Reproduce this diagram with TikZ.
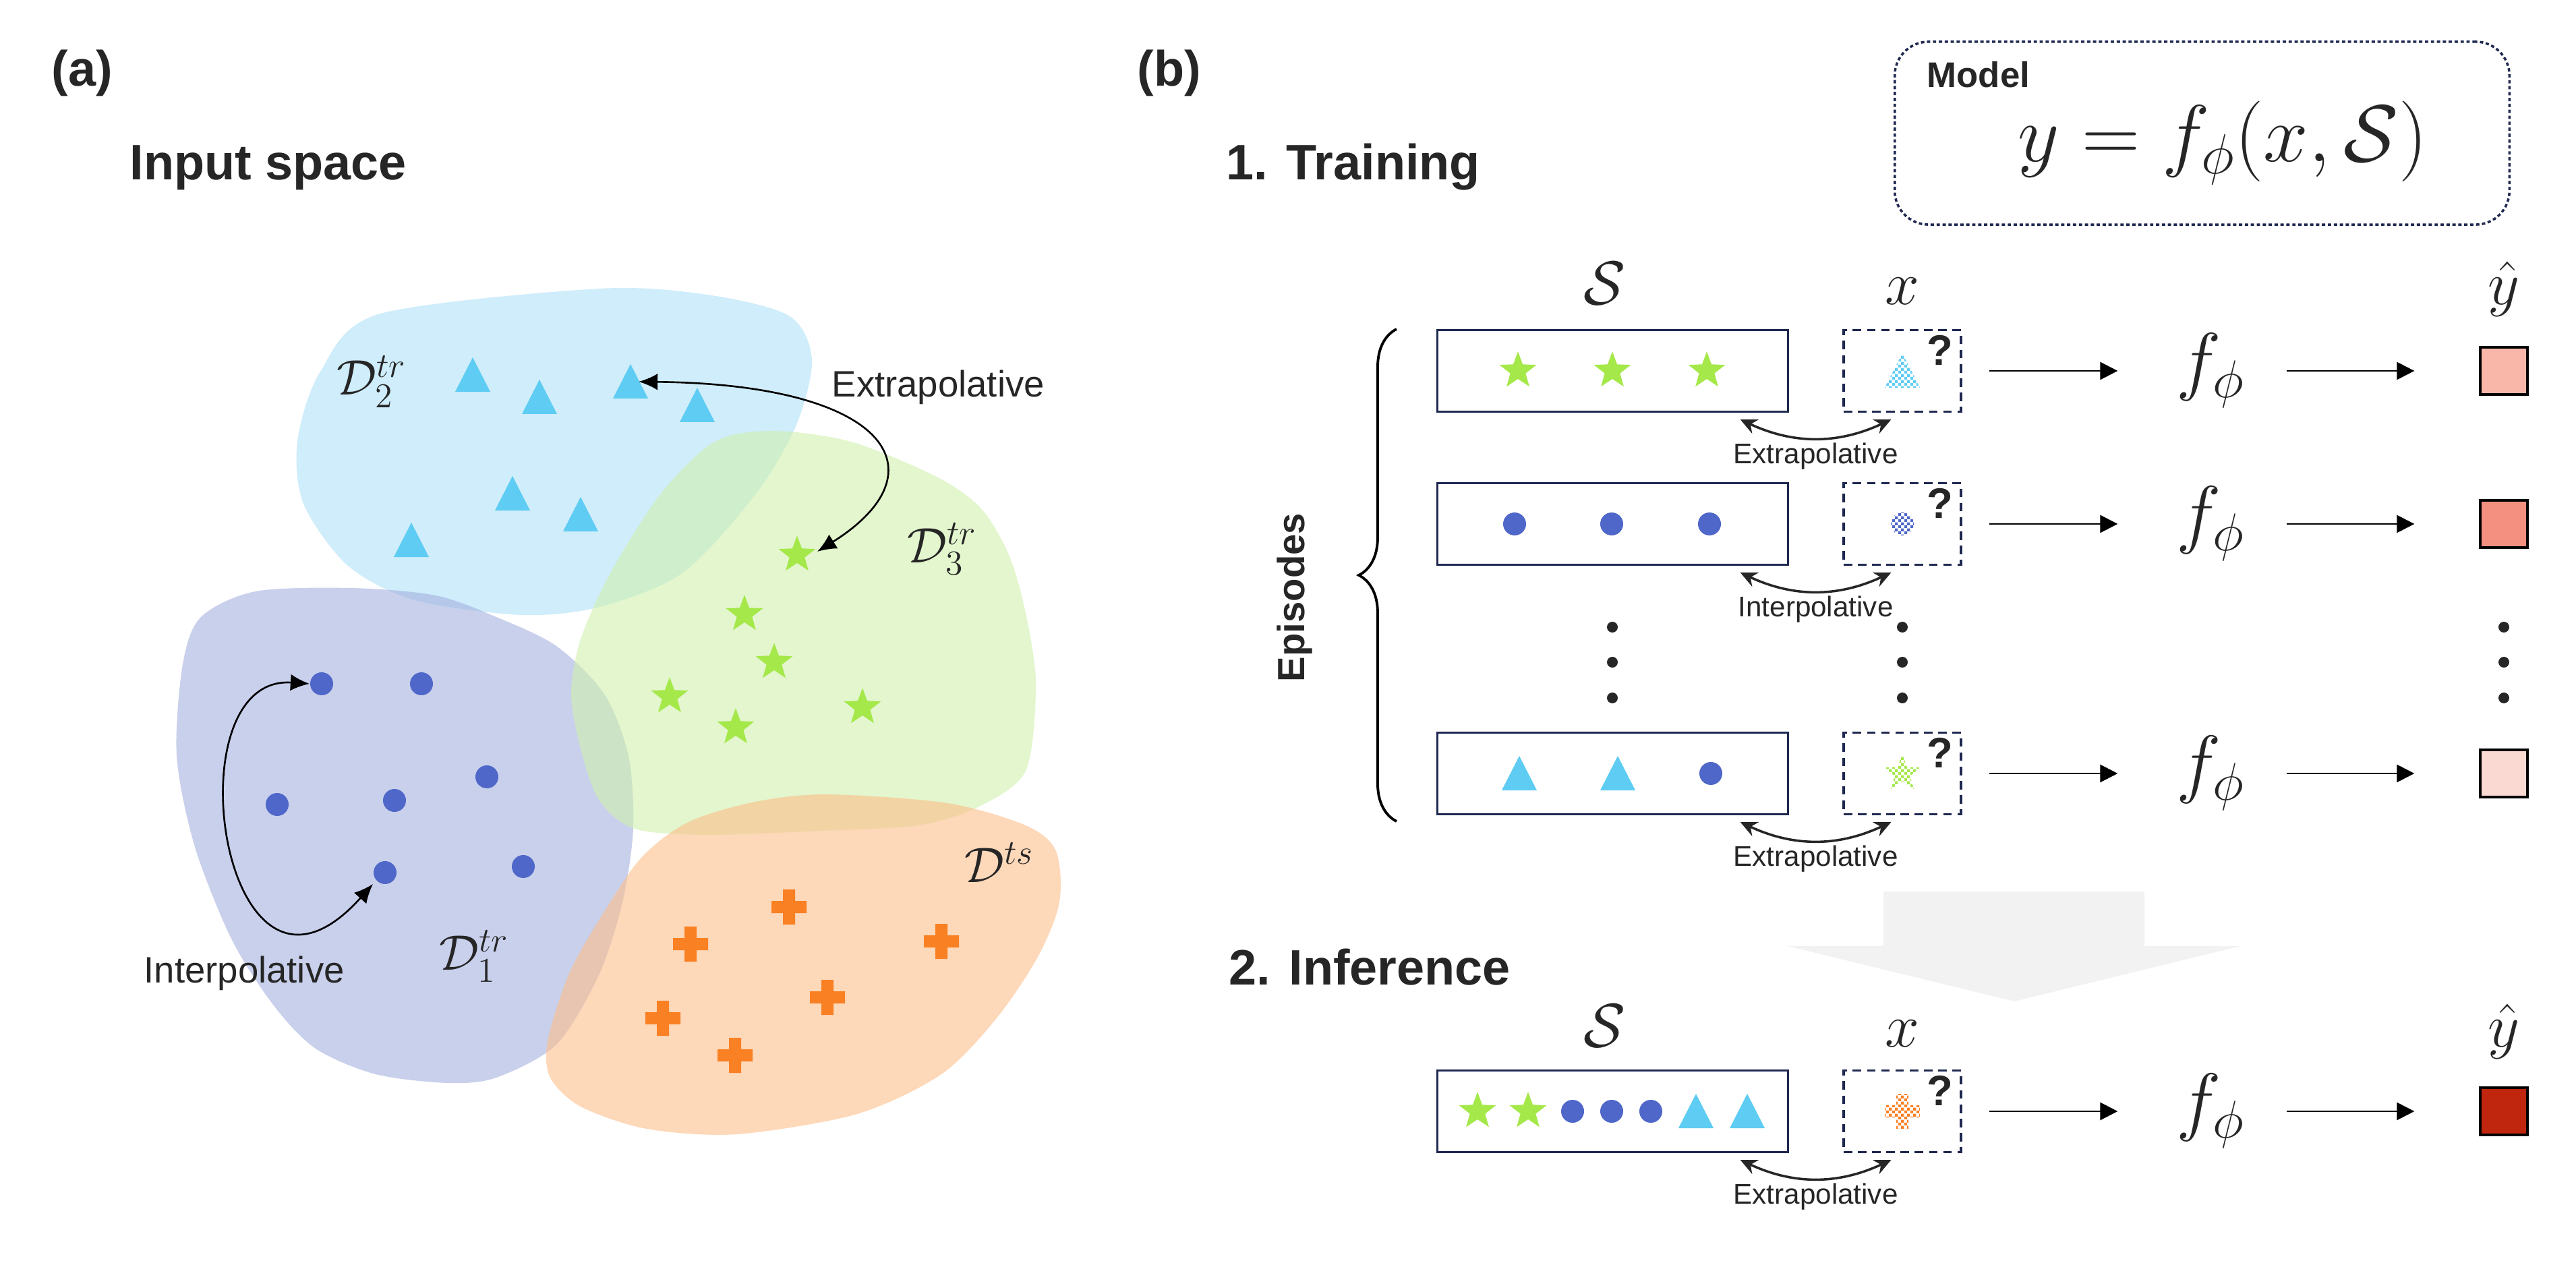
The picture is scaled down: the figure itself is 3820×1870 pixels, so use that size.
\RequirePackage{fix-cm}
\documentclass[tikz,border=0pt]{standalone}
\usepackage{amsmath}
\usepackage[no-math]{fontspec}
\setmainfont{Liberation Sans}
\usetikzlibrary{positioning, calc, shapes.geometric, patterns}
\usetikzlibrary{decorations.pathreplacing, arrows.meta}

\definecolor{navy}{RGB}{31,40,80}
\definecolor{txt}{RGB}{38,38,38}
\definecolor{tricol}{RGB}{94,204,243}
\definecolor{starcol}{RGB}{165,232,74}
\definecolor{dotcol}{RGB}{79,103,200}
\definecolor{crosscol}{RGB}{250,128,36}
\definecolor{cyanfill}{RGB}{175,225,247}
\definecolor{purpfill}{RGB}{165,177,223}
\definecolor{greenfill}{RGB}{208,240,173}
\definecolor{orangefill}{RGB}{252,190,138}
\definecolor{yhatA}{RGB}{249,183,170}
\definecolor{yhatB}{RGB}{244,144,127}
\definecolor{yhatC}{RGB}{251,217,211}
\definecolor{yhatD}{RGB}{192,37,14}
\definecolor{bigarrow}{RGB}{242,242,242}

\pgfdeclarepatternformonly{finechecker}{\pgfpointorigin}{\pgfqpoint{2.6pt}{2.6pt}}{\pgfqpoint{2.6pt}{2.6pt}}{%
  \pgfpathrectangle{\pgfpointorigin}{\pgfqpoint{1.3pt}{1.3pt}}%
  \pgfpathrectangle{\pgfqpoint{1.3pt}{1.3pt}}{\pgfqpoint{1.3pt}{1.3pt}}%
  \pgfusepath{fill}}

% markers: style, x, y (pixels, y downwards)
\newcommand{\mktri}[3]{\fill[#1,shift={(#2,-#3)}] (-26,-25) -- (26,-25) -- (0,26) -- cycle;}
\newcommand{\mkdot}[3]{\fill[#1] (#2,-#3) circle (0.17cm);}
\newcommand{\mkstar}[3]{\node[starmark,#1] at (#2,-#3) {};}
\newcommand{\mkcross}[3]{\fill[#1,shift={(#2,-#3)}] (-26,-9) rectangle (26,9) (-9,-26) rectangle (9,26);}

\tikzset{
  head/.style={font=\fontsize{21}{25}\selectfont\bfseries, text=txt, inner sep=0},
  note/.style={font=\fontsize{15.5}{18}\selectfont, text=txt, inner sep=0},
  relnote/.style={font=\fontsize{12}{14}\selectfont, text=txt, inner sep=0},
  dlab/.style={font=\fontsize{21}{25}\selectfont, text=txt, inner sep=0},
  mathlab/.style={font=\fontsize{26}{30}\selectfont, text=txt, inner sep=0},
  qmark/.style={font=\fontsize{18}{21}\selectfont\bfseries, text=txt, inner sep=0},
  region/.style={fill opacity=0.6},
  starmark/.style={star, star points=5, star point ratio=2.4, minimum size=0.575cm, inner sep=0},
  sbox/.style={draw=navy, line width=0.9pt, minimum width=5.19cm, minimum height=1.21cm, inner sep=0},
  qbox/.style={draw=navy, line width=0.9pt, dash pattern=on 3.6pt off 2.4pt, minimum width=1.74cm, minimum height=1.21cm, inner sep=0},
  fnode/.style={font=\fontsize{32}{38}\selectfont, text=txt, inner sep=0},
  yout/.style={draw=black, line width=0.9pt, minimum size=0.7cm, inner sep=0},
  flow/.style={-{Triangle[length=7.4pt,width=7.4pt]}, line width=0.7pt},
  relarrow/.style={{Stealth[length=7pt,width=6.5pt]}-{Stealth[length=7pt,width=6.5pt]}, line width=1pt, draw=txt},
  spacearrow/.style={{Latex[length=8pt,width=7pt]}-{Latex[length=8pt,width=7pt]}, line width=0.75pt}
}

\begin{document}
\begin{tikzpicture}[x=0.01cm, y=0.01cm]
\useasboundingbox (0,0) rectangle (3820,-1870);

% panel titles
\node[head, anchor=base west] (pa) at (76,-128) {(a)};
\node[head, anchor=base west] (inspace) at (192,-267) {Input space};
\node[head, anchor=base west] (pb) at (1686,-128) {(b)};
\node[head, anchor=base west] (train) at (1818,-267) {1. Training};
\node[head, anchor=base west] (infer) at (1822,-1460) {2. Inference};

% data regions
\fill[cyanfill, region] plot[smooth cycle] coordinates {(561,-466) (889,-428) (1055,-438) (1171,-469) (1204,-533) (1181,-630) (1121,-732) (1013,-849) (889,-900) (773,-912) (615,-890) (516,-839) (450,-747) (441,-655) (474,-553)};
\fill[purpfill, region] plot[smooth cycle] coordinates {(521,-872) (646,-883) (736,-915) (825,-958) (896,-1029) (932,-1121) (939,-1229) (923,-1338) (888,-1446) (825,-1549) (736,-1598) (664,-1606) (557,-1593) (468,-1555) (405,-1490) (343,-1392) (289,-1256) (262,-1121) (271,-985) (298,-915) (379,-877)};
\fill[greenfill, region] plot[smooth cycle] coordinates {(1146,-639) (1262,-655) (1387,-706) (1453,-752) (1494,-818) (1519,-900) (1536,-1012) (1521,-1143) (1450,-1197) (1361,-1224) (1218,-1232) (1048,-1238) (941,-1229) (888,-1186) (861,-1110) (847,-1029) (861,-948) (905,-850) (980,-732) (1060,-655)};
\fill[orangefill, region] plot[smooth cycle] coordinates {(1227,-1178) (1405,-1191) (1521,-1224) (1566,-1262) (1571,-1338) (1539,-1419) (1477,-1511) (1396,-1593) (1271,-1652) (1093,-1682) (959,-1674) (861,-1641) (816,-1598) (812,-1544) (843,-1446) (888,-1365) (950,-1273) (1021,-1219) (1120,-1189)};

% points of each region
\foreach \x/\y in {701/556,800/589,935/566,1034/601,760/732,861/763,610/801} {\mktri{fill=tricol}{\x}{\y}}
\foreach \x/\y in {1182/823,1104/911,1148/982,993/1033,1279/1049,1091/1079} {\mkstar{fill=starcol}{\x}{\y}}
\foreach \x/\y in {477/1014,625/1014,411/1193,585/1187,722/1152,571/1294,776/1285} {\mkdot{fill=dotcol}{\x}{\y}}
\foreach \x/\y in {1170/1345,1024/1400,1396/1396,1227/1479,983/1510,1090/1565} {\mkcross{fill=crosscol}{\x}{\y}}

\node[dlab, anchor=base west] (d2) at (499,-586) {$\mathcal{D}_2^{tr}$};
\node[dlab, anchor=base west] (d3) at (1345,-834) {$\mathcal{D}_3^{tr}$};
\node[dlab, anchor=base west] (d1) at (651,-1438) {$\mathcal{D}_1^{tr}$};
\node[dlab, anchor=base west] (dts) at (1430,-1308) {$\mathcal{D}^{ts}$};

% extrapolative / interpolative in input space
\coordinate (tA) at (935,-566);
\coordinate (sA) at (1182,-823);
\coordinate (dA) at (477,-1014);
\coordinate (dB) at (571,-1294);
\draw[spacearrow] ($(tA)+(12,0)$) .. controls (1320,-570) and (1400,-700) .. ($(sA)+(30,5)$);
\draw[spacearrow] ($(dA)+(-18,0)$) .. controls (250,-1000) and (330,-1560) .. ($(dB)+(-18,-17)$);
\node[note, anchor=base west] (extra) at (1233,-589) {Extrapolative};
\node[note, anchor=base west] (inter) at (213,-1457) {Interpolative};

% model box
\node[draw=navy, line width=1pt, dash pattern=on 1.4pt off 1.1pt, rounded corners=0.5cm,
      minimum width=9.11cm, minimum height=2.71cm] (model) at (3265.5,-197.5) {};
\node[font=\fontsize{15}{18}\selectfont\bfseries, text=txt, anchor=base west, inner sep=0] (mtitle) at (2857,-130) {Model};
\node[fnode, font=\fontsize{34}{40}\selectfont] (mform) at (3296,-212) {$y = f_\phi(x,\mathcal{S})$};

% episodes
\foreach \r/\y/\c in {1/550/yhatA,2/777/yhatB,3/1147/yhatC,4/1648/yhatD} {
  \node[sbox] (s\r) at (2391.5,-\y) {};
  \node[qbox] (q\r) at (2821,-\y) {};
  \node[qmark, below left=0.09cm and 0.13cm of q\r.north east] (m\r) {?};
  \node[fnode] (f\r) at (3278,-\y) {$f_\phi$};
  \node[yout, fill=\c] (y\r) at (3713,-\y) {};
  \draw[flow, shorten <=0.4cm, shorten >=0.86cm] (q\r) -- (f\r);
  \draw[flow, shorten <=0.61cm, shorten >=0.96cm] (f\r) -- (y\r);
}

\foreach \r/\rel in {1/Extrapolative,2/Interpolative,3/Extrapolative,4/Extrapolative} {
  \draw[relarrow] ($(s\r.south east)+(-72,-10)$) to[out=-25,in=205] ($(q\r.south west)+(72,-10)$);
  \node[relnote, anchor=base] (rel\r) at ($(s\r.south east)!0.5!(q\r.south west)+(0,-75)$) {\rel};
}

% support and query points
\foreach \x in {2251,2391,2531} {\mkstar{fill=starcol}{\x}{550}}
\foreach \x in {2246,2390,2535} {\mkdot{fill=dotcol}{\x}{777}}
\foreach \x in {2253,2399} {\mktri{fill=tricol}{\x}{1147}}
\mkdot{fill=dotcol}{2537}{1147}
\foreach \x in {2191,2266} {\mkstar{fill=starcol}{\x}{1648}}
\foreach \x in {2332,2390,2448} {\mkdot{fill=dotcol}{\x}{1648}}
\foreach \x in {2515,2591} {\mktri{fill=tricol}{\x}{1648}}

\mktri{pattern=finechecker, pattern color=tricol}{2821}{550}
\mkdot{pattern=finechecker, pattern color=dotcol}{2821}{777}
\mkstar{pattern=finechecker, pattern color=starcol}{2821}{1147}
\mkcross{pattern=finechecker, pattern color=crosscol}{2821}{1648}

% column labels
\foreach \n/\y in {top/452,bot/1552} {
  \node[mathlab, anchor=base] (S\n) at (2380,-\y) {$\mathcal{S}$};
  \node[mathlab, anchor=base] (x\n) at (2821,-\y) {$x$};
  \node[mathlab, anchor=base] (yh\n) at (3713,-\y) {$\hat{y}$};
}

% vertical dots
\foreach \x in {2391,2821,3713}
  \foreach \y in {930,982,1035}
    \fill[txt] (\x,-\y) circle (0.08cm);

% brace
\draw[line width=1.1pt, decorate, decoration={brace, amplitude=0.56cm, aspect=0.5}] (2071,-1218) -- (2071,-488);
\node[font=\fontsize{16}{19}\selectfont\bfseries, text=txt, rotate=90] (epi) at (1920,-886) {Episodes};

% training to inference
\fill[bigarrow] (2793,-1322) -- (3180,-1322) -- (3180,-1403) -- (3322,-1403) -- (2987,-1485) -- (2651,-1403) -- (2793,-1403) -- cycle;

\end{tikzpicture}
\end{document}
